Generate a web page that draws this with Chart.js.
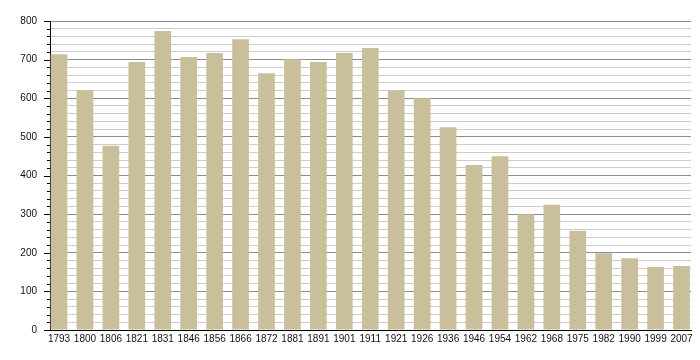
<!DOCTYPE html>
<html>
<head>
<meta charset="utf-8">
<script src="https://cdn.jsdelivr.net/npm/chart.js@4"></script>
<style>
  html, body { margin: 0; padding: 0; background: #fff; }
  #wrap { width: 700px; height: 360px; }
</style>
</head>
<body>
<div id="wrap"><canvas id="popChart" width="700" height="360"></canvas></div>
<script>
var years = ['1793', '1800', '1806', '1821', '1831', '1846', '1856', '1866', '1872', '1881', '1891', '1901',
             '1911', '1921', '1926', '1936', '1946', '1954', '1962', '1968', '1975', '1982', '1990', '1999', '2007'];
var population = [714, 621, 477, 694, 774, 707, 717, 753, 665, 701, 694, 717,
                  730, 620, 600, 525, 427, 450, 300, 324, 257, 199, 186, 163, 166];
var yMin = 0;
var yMax = 800;
var yMinorStep = 20;

// small tick marks on the left axis: long ones every 100, short ones every 20
var axisTicks = {
    id: 'axisTicks',
    afterDraw: function (chart) {
        var ctx = chart.ctx;
        var y = chart.scales.y;
        var left = chart.chartArea.left;
        ctx.save();
        ctx.strokeStyle = '#000';
        ctx.lineWidth = 1;
        y.ticks.forEach(function (t) {
            var py = Math.round(y.getPixelForValue(t.value)) + 0.5;
            var len = t.value % 100 === 0 ? 6 : 3;
            ctx.beginPath();
            ctx.moveTo(left - len, py);
            ctx.lineTo(left, py);
            ctx.stroke();
        });
        ctx.restore();
    }
};

var ctx = document.getElementById('popChart').getContext('2d');

var data = {
    labels: years,
    datasets: [
        {
            label: 'Population',
            backgroundColor: '#c9c09b',
            borderWidth: 0,
            data: population,
            barPercentage: 0.644,
            categoryPercentage: 1.0,
        },
    ],
};

var options = {
    responsive: false,
    animation: false,
    layout: {
        padding: { top: 21, right: 9, left: 0, bottom: 0 },
    },
    plugins: {
        legend: { display: false },
        tooltip: { enabled: false },
    },
    scales: {
        x: {
            offset: false,
            afterBuildTicks: function (axis) {
                // the bars sit a little off-centre from the plot edges in the original
                var padLeft = 0.347;
                var padRight = 0.366;
                axis._startValue = -padLeft;
                axis._valueRange = years.length - 1 + padLeft + padRight;
            },
            afterFit: function (axis) {
                axis.height = 30;
            },
            grid: { display: false, drawTicks: false },
            border: { display: true, color: '#000', width: 1 },
            ticks: {
                autoSkip: false,
                maxRotation: 0,
                padding: 3,
                color: '#111',
                font: { family: 'Liberation Sans, Arial, sans-serif', size: 10 },
            },
        },
        y: {
            min: yMin,
            max: yMax,
            afterFit: function (axis) {
                axis.width = 50;
            },
            grid: {
                drawTicks: false,
                color: function (c) {
                    return c.tick && c.tick.value % 100 === 0 ? '#8c8c8c' : '#cdcdcd';
                },
            },
            border: { display: true, color: '#000', width: 1 },
            ticks: {
                stepSize: yMinorStep,
                autoSkip: false,
                padding: 13,
                color: '#111',
                font: { family: 'Liberation Sans, Arial, sans-serif', size: 10 },
                callback: function (v) {
                    return v % 100 === 0 ? v : '';
                },
            },
        },
    },
};

var config = {
    type: 'bar',
    data: data,
    options: options,
    plugins: [axisTicks],
};

var myChart = new Chart(ctx, config);
</script>
</body>
</html>
